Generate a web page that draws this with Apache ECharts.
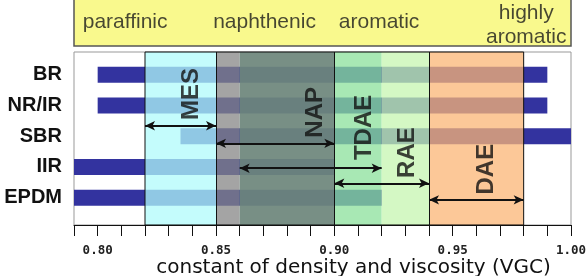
<!DOCTYPE html>
<html>
<head>
<meta charset="utf-8">
<title>VGC of process oils</title>
<script src="https://cdn.jsdelivr.net/npm/echarts@6/dist/echarts.min.js"></script>
<style>
  html, body { margin: 0; padding: 0; background: #fff; }
  #chart { width: 587px; height: 276px; }
</style>
</head>
<body>
<div id="chart"></div>
<script>
// rubbers and the VGC range each one takes
var rubbers = ['BR', 'NR/IR', 'SBR', 'IIR', 'EPDM'];
var rubberStart = [0.80, 0.80, 0.835, 0.79, 0.79];
var rubberEnd = [0.99, 0.99, 1.00, 0.90, 0.92];

// oil classes in the yellow header (centre, VGC)
var classNames = ['paraffinic', 'naphthenic', 'aromatic', 'highly\naromatic'];
var classAt = [0.8116, 0.8705, 0.9189, 0.9811];

// coloured bands
var bandFrom = [0.82, 0.85, 0.86, 0.90, 0.92, 0.94];
var bandTo = [0.85, 0.86, 0.90, 0.92, 0.94, 0.98];

// oils: arrow range, arrow row, label anchor
var oils = ['MES', 'NAP', 'TDAE', 'RAE', 'DAE'];
var oilFrom = [0.82, 0.85, 0.86, 0.90, 0.94];
var oilTo = [0.85, 0.90, 0.92, 0.94, 0.98];
var oilRow = [1.655, 2.23, 3.04, 3.53, 4.07];
var oilLabelAt = [0.8398, 0.8918, 0.9125, 0.9307, 0.9641];
var oilLabelRow = [0.62, 1.22, 1.71, 2.53, 3.07];

// boundary lines drawn in black
var edges = [0.85, 0.90, 0.94];

var vgcMin = 0.79, vgcMax = 1.00;

var bandColors = [
  'rgba(176,251,251,0.75)',
  'rgba(134,134,134,0.75)',
  'rgba(110,134,124,0.93)',
  'rgba(139,224,155,0.75)',
  'rgba(198,246,176,0.75)',
  'rgba(251,182,118,0.75)'
];

var chart = echarts.init(document.getElementById('chart'));

var hiddenX = function (idx) {
  return { type: 'value', gridIndex: idx, min: vgcMin, max: vgcMax, show: false };
};

var option = {
  animation: false,
  grid: [
    { left: 74, right: 16, top: 52, bottom: 51, outerBoundsMode: 'none', containLabel: false,
      show: true, borderColor: '#999', borderWidth: 1, backgroundColor: '#fff' },
    { left: 74, right: 16, top: 59.5, height: 153.5, outerBoundsMode: 'none', containLabel: false },
    { left: 74, right: 16, top: -2, height: 48, outerBoundsMode: 'none', containLabel: false,
      show: true, backgroundColor: '#f9f98d', borderColor: '#555', borderWidth: 1.5 }
  ],
  xAxis: [
    {
      type: 'value', gridIndex: 0, min: vgcMin, max: vgcMax, interval: 0.01, z: 10,
      axisLine: { show: true, onZero: false, lineStyle: { color: '#111', width: 1 } },
      axisTick: { show: true, length: 11, lineStyle: { color: '#111', width: 1 } },
      splitLine: { show: false },
      axisLabel: {
        margin: 19,
        fontFamily: 'DejaVu Sans Mono', fontWeight: 'bold', fontSize: 12.5, color: '#222',
        formatter: function (v) {
          var k = Math.round(v * 100);
          return k % 5 === 0 ? (k / 100).toFixed(2) : '';
        }
      },
      name: 'constant of density and viscosity (VGC)',
      nameLocation: 'middle',
      nameGap: 33,
      nameMoveOverlap: false,
      nameTextStyle: { fontFamily: 'DejaVu Sans', fontSize: 20, color: '#111', padding: [0, 0, 0, 62] }
    },
    hiddenX(1),
    hiddenX(2)
  ],
  yAxis: [
    { type: 'value', gridIndex: 0, inverse: true, min: -0.746, max: 4.889, show: false },
    {
      type: 'category', gridIndex: 1, inverse: true, data: rubbers,
      axisLine: { show: false }, axisTick: { show: false }, splitLine: { show: false },
      axisLabel: { margin: 12, fontFamily: 'Liberation Sans', fontWeight: 'bold', fontSize: 20, color: '#111' }
    },
    { type: 'value', gridIndex: 2, inverse: true, min: 0, max: 1, show: false }
  ],
  series: [
    {
      type: 'bar', xAxisIndex: 1, yAxisIndex: 1, stack: 'r', z: 1, silent: true,
      barWidth: 16,
      itemStyle: { color: 'rgba(0,0,0,0)' },
      data: rubberStart
    },
    {
      type: 'bar', xAxisIndex: 1, yAxisIndex: 1, stack: 'r', z: 1, silent: true,
      barWidth: 16,
      itemStyle: { color: '#33339f' },
      data: rubberEnd.map(function (e, i) { return +(e - rubberStart[i]).toFixed(4); })
    },
    {
      name: 'bands', type: 'scatter', xAxisIndex: 0, yAxisIndex: 0, z: 3, silent: true,
      data: [],
      markArea: {
        silent: true, z: 3,
        data: bandFrom.map(function (f, i) {
          return [{ xAxis: f, itemStyle: { color: bandColors[i], borderWidth: 0 } }, { xAxis: bandTo[i] }];
        }).concat([[
          { xAxis: bandFrom[0], itemStyle: { color: 'rgba(0,0,0,0)', borderColor: '#111', borderWidth: 1 } },
          { xAxis: bandTo[bandTo.length - 1] }
        ]])
      },
      markLine: {
        silent: true, symbol: 'none', z: 4, label: { show: false },
        lineStyle: { color: '#111', width: 1, type: 'solid' },
        data: edges.map(function (e) { return { xAxis: e }; })
      }
    },
    {
      name: 'oils', type: 'scatter', xAxisIndex: 0, yAxisIndex: 0, z: 8, silent: true,
      symbolSize: 0,
      data: oils.map(function (n, i) { return { name: n, value: [oilLabelAt[i], oilLabelRow[i]] }; }),
      label: {
        show: true, position: 'inside', formatter: '{b}', rotate: 90,
        fontFamily: 'Liberation Sans', fontWeight: 'bold', fontSize: 24, color: '#111',
        textBorderWidth: 0
      },
      markLine: {
        silent: true, z: 7, symbol: ['arrow', 'arrow'], symbolSize: [7, 10],
        label: { show: false },
        lineStyle: { color: '#111', width: 1.8, type: 'solid' },
        data: oils.map(function (n, i) {
          return [{ coord: [oilFrom[i], oilRow[i]] }, { coord: [oilTo[i], oilRow[i]] }];
        })
      }
    },
    {
      name: 'classes', type: 'scatter', xAxisIndex: 2, yAxisIndex: 2, z: 5, silent: true,
      symbolSize: 0,
      data: classNames.map(function (n, i) {
        var two = n.indexOf('\n') >= 0;
        return { name: n, value: [classAt[i], 0.5], label: { offset: [0, two ? 3 : 0] } };
      }),
      label: {
        show: true, position: 'inside', formatter: '{b}',
        fontFamily: 'Liberation Sans', fontSize: 21, lineHeight: 24, color: '#1a1a1a',
        textBorderWidth: 0
      }
    }
  ]
};

chart.setOption(option);
</script>
</body>
</html>
